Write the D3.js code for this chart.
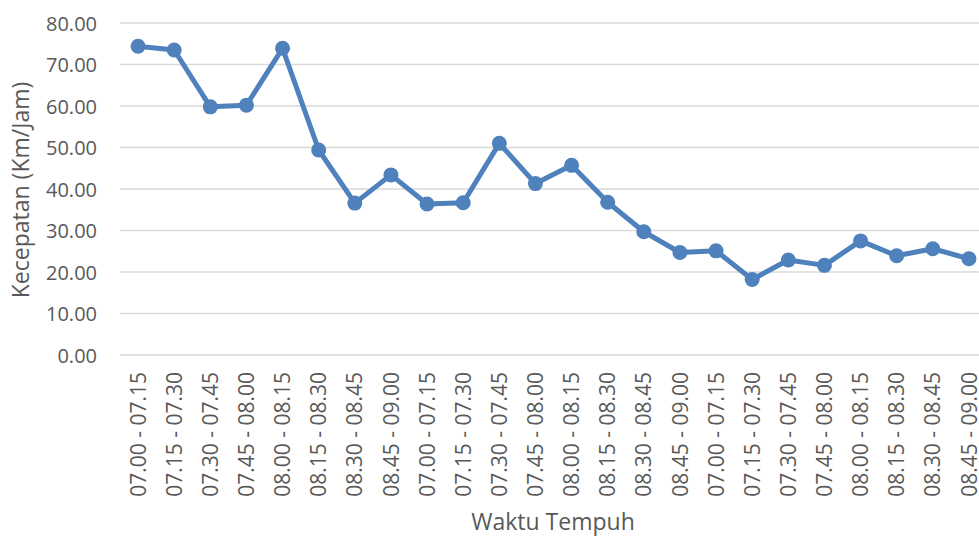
<!DOCTYPE html>
<html><head><meta charset="utf-8">
<script src="https://cdn.jsdelivr.net/npm/d3@7"></script>
<style>body{margin:0;background:#fff}svg{display:block}</style>
</head><body>
<svg id="c" width="979" height="536"></svg>
<script>
const categories = ["07.00 - 07.15","07.15 - 07.30","07.30 - 07.45","07.45 - 08.00","08.00 - 08.15","08.15 - 08.30","08.30 - 08.45","08.45 - 09.00",
"07.00 - 07.15","07.15 - 07.30","07.30 - 07.45","07.45 - 08.00","08.00 - 08.15","08.15 - 08.30","08.30 - 08.45","08.45 - 09.00",
"07.00 - 07.15","07.15 - 07.30","07.30 - 07.45","07.45 - 08.00","08.00 - 08.15","08.15 - 08.30","08.30 - 08.45","08.45 - 09.00"];
const speeds = [74.4,73.5,59.8,60.2,73.9,49.4,36.6,43.4,36.4,36.7,51.0,41.3,45.7,36.8,29.7,24.7,25.1,18.2,22.9,21.6,27.5,23.9,25.6,23.2];
const yTicks = [0,10,20,30,40,50,60,70,80];
const yTitle = "Kecepatan (Km/Jam)";
const xTitle = "Waktu Tempuh";

(function(){
const font = "Open Sans, sans-serif";
const svg = d3.select("#c");
const pLeft = 120, pRight = 987, pTop = 23, pBottom = 355;
const idx = categories.map((d,i)=>i);
const x = d3.scaleBand().domain(idx).range([pLeft,pRight]);
const y = d3.scaleLinear().domain([0,80]).range([pBottom,pTop]);

svg.selectAll("line.grid").data(yTicks).join("line").attr("class","grid")
  .attr("x1",pLeft).attr("x2",979).attr("y1",d=>y(d)).attr("y2",d=>y(d))
  .attr("stroke","#d9d9d9").attr("stroke-width",1.5);

const yAxis = d3.axisLeft(y).tickValues(yTicks).tickFormat(d3.format(".2f")).tickSize(0).tickPadding(0);
const ya = svg.append("g").attr("transform",`translate(${pLeft-23},0)`).call(yAxis);
ya.select(".domain").remove();
ya.selectAll("text").attr("font-family",font).attr("font-size",20).attr("fill","#595959").attr("dy","0.36em");

const xAxis = d3.axisBottom(x).tickFormat(i=>categories[i]).tickSize(0).tickPadding(0);
const xa = svg.append("g").attr("transform",`translate(0,${pBottom})`).call(xAxis);
xa.select(".domain").remove();
xa.selectAll("text").attr("font-family",font).attr("font-size",21).attr("fill","#595959")
  .attr("transform","rotate(-90)").attr("text-anchor","end").attr("x",-17).attr("y",0).attr("dy","0.36em");

const line = d3.line().x((d,i)=>x(i)+x.bandwidth()/2).y(d=>y(d));
svg.append("path").datum(speeds).attr("d",line).attr("fill","none")
  .attr("stroke","#4f81bd").attr("stroke-width",5).attr("stroke-linejoin","round");
svg.selectAll("circle.pt").data(speeds).join("circle").attr("class","pt")
  .attr("cx",(d,i)=>x(i)+x.bandwidth()/2).attr("cy",d=>y(d)).attr("r",7.5).attr("fill","#4f81bd");

svg.append("text").attr("transform",`translate(29,190) rotate(-90)`).attr("text-anchor","middle")
  .attr("font-family",font).attr("font-size",23).attr("fill","#595959").text(yTitle);
svg.append("text").attr("x",553).attr("y",530).attr("text-anchor","middle")
  .attr("font-family",font).attr("font-size",23).attr("fill","#595959").text(xTitle);
})();
</script>
</body></html>
